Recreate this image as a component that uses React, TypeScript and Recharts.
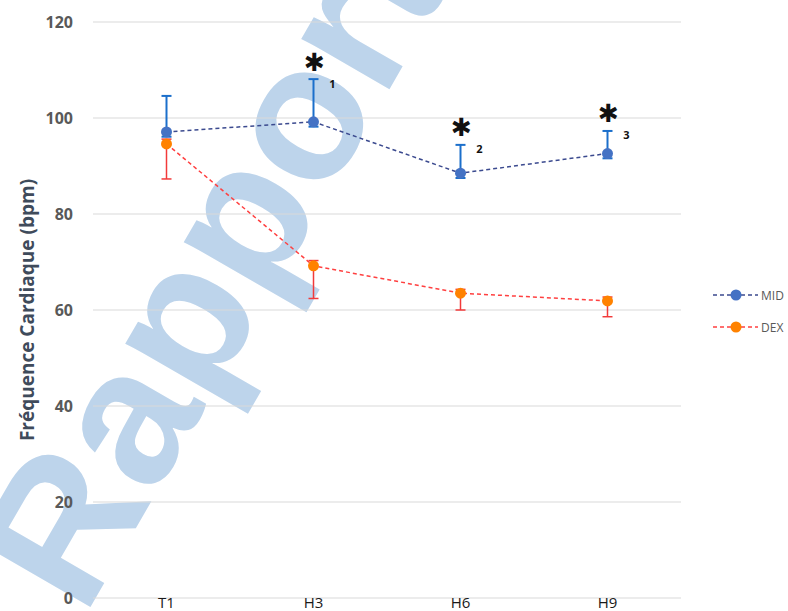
import React from "react";
import {
  LineChart,
  Line,
  XAxis,
  YAxis,
  CartesianGrid,
  ErrorBar,
  LabelList,
  Legend,
} from "recharts";

const categories = ["T1", "H3", "H6", "H9"];
const midValues = [97.1, 99.2, 88.5, 92.6];
// [minus, plus]
const midErrors = [
  [1, 7.5],
  [1, 8.9],
  [1, 5.9],
  [1, 4.7],
];
const dexValues = [94.6, 69.2, 63.5, 61.9];
const dexErrors = [
  [7.3, 1],
  [6.8, 1.1],
  [3.5, 0.8],
  [3.3, 0.8],
];
const sigMarks = ["", "1", "2", "3"];
const yTicks = [0, 20, 40, 60, 80, 100, 120];

const data = categories.map((cat, i) => ({
  cat,
  mid: midValues[i],
  midErr: midErrors[i],
  dex: dexValues[i],
  dexErr: dexErrors[i],
  sigTop: sigMarks[i] ? midValues[i] + midErrors[i][1] : null,
  sig: sigMarks[i],
}));

const C = {
  midLine: "#3B4A8F",
  midDot: "#4472C4",
  midErr: "#1B6FCB",
  dexLine: "#FF4040",
  dexDot: "#FF8200",
  dexErr: "#F23A3A",
  grid: "#D9D9D9",
  tick: "#595959",
  title: "#3F4B5B",
};

const legendItems = [
  { name: "MID", line: C.midLine, dot: C.midDot },
  { name: "DEX", line: C.dexLine, dot: C.dexDot },
];

const StarLabel = (props: any) => {
  const { x, y, value } = props;
  if (!value) return null;
  return (
    <g>
      <text
        x={x + 1}
        y={y - 17}
        textAnchor="middle"
        dominantBaseline="central"
        fontSize={25}
        fontWeight="bold"
        fontFamily="DejaVu Sans"
        fill="#111"
      >
        ✱
      </text>
      <text
        x={x + 19}
        y={y + 4}
        textAnchor="middle"
        dominantBaseline="central"
        fontSize={11}
        fontWeight="bold"
        fontFamily="Open Sans"
        fill="#111"
      >
        {value}
      </text>
    </g>
  );
};

const renderLegend = () => (
  <div style={{ fontFamily: "Open Sans", fontSize: 12, color: C.tick }}>
    {legendItems.map((it) => (
      <div key={it.name} style={{ display: "flex", alignItems: "center", height: 32 }}>
        <svg width={45} height={12}>
          <line x1={0} y1={6} x2={45} y2={6} stroke={it.line} strokeWidth={1.5} strokeDasharray="4 3" />
          <circle cx={23} cy={6} r={5.5} fill={it.dot} />
        </svg>
        <span style={{ marginLeft: 3 }}>{it.name}</span>
      </div>
    ))}
  </div>
);

const XTick = (props: any) => {
  const { x, y, payload } = props;
  return (
    <text x={x} y={y + 10} textAnchor="middle" fontSize={15} fontFamily="Open Sans" fill="#1A1A1A">
      {payload.value}
    </text>
  );
};

const YLabel = (props: any) => {
  const { viewBox } = props;
  const cy = viewBox.y + viewBox.height / 2;
  return (
    <text
      x={27}
      y={cy}
      transform={`rotate(-90, 27, ${cy})`}
      textAnchor="middle"
      dominantBaseline="central"
      fontSize={19}
      fontWeight="bold"
      fontFamily="Open Sans"
      fill={C.title}
    >
      Fréquence Cardiaque (bpm)
    </text>
  );
};

export default function App() {
  return (
    <div style={{ position: "absolute", left: 0, top: 0, width: 788, height: 611, overflow: "hidden", background: "#fff" }}>
      <svg width={788} height={611} style={{ position: "absolute", left: 0, top: 0 }}>
        <text
          transform="translate(84, 618) rotate(-60)"
          fontSize={192}
          fontWeight="bold"
          fontFamily="Liberation Sans"
          fill="#BDD4EB"
        >
          Rapport
        </text>
      </svg>
      <div style={{ position: "absolute", left: 0, top: 0 }}>
        <LineChart width={788} height={611} data={data} margin={{ top: 22, right: 107, bottom: 0, left: 0 }}>
          <CartesianGrid vertical={false} stroke={C.grid} />
          <XAxis
            dataKey="cat"
            height={13}
            axisLine={false}
            tickLine={false}
            tickSize={0}
            tickMargin={0}
            padding={{ left: 73.5, right: 73.5 }}
            tick={<XTick />}
            interval={0}
          />
          <YAxis
            width={93}
            domain={[0, 120]}
            ticks={yTicks}
            axisLine={false}
            tickLine={false}
            tickSize={0}
            tickMargin={20}
            tick={{ fontSize: 16, fontWeight: "bold", fontFamily: "Open Sans", fill: C.tick }}
            label={<YLabel />}
          />
          <Legend
            layout="horizontal"
            align="center"
            verticalAlign="middle"
            wrapperStyle={{ left: 713, top: 279, width: 75 }}
            content={renderLegend}
          />
          <Line
            type="linear"
            dataKey="mid"
            stroke={C.midLine}
            strokeWidth={1.5}
            strokeDasharray="4 3"
            dot={{ r: 5.5, fill: C.midDot, stroke: C.midDot, strokeWidth: 0 }}
            activeDot={false}
            isAnimationActive={false}
          >
            <ErrorBar dataKey="midErr" direction="y" width={5} strokeWidth={2} stroke={C.midErr} />
          </Line>
          <Line
            type="linear"
            dataKey="dex"
            stroke={C.dexLine}
            strokeWidth={1.5}
            strokeDasharray="4 3"
            dot={{ r: 5.5, fill: C.dexDot, stroke: C.dexDot, strokeWidth: 0 }}
            activeDot={false}
            isAnimationActive={false}
          >
            <ErrorBar dataKey="dexErr" direction="y" width={5} strokeWidth={1.5} stroke={C.dexErr} />
          </Line>
          <Line
            dataKey="sigTop"
            stroke="none"
            dot={false}
            activeDot={false}
            legendType="none"
            isAnimationActive={false}
          >
            <LabelList dataKey="sig" content={<StarLabel />} />
          </Line>
        </LineChart>
      </div>
    </div>
  );
}
